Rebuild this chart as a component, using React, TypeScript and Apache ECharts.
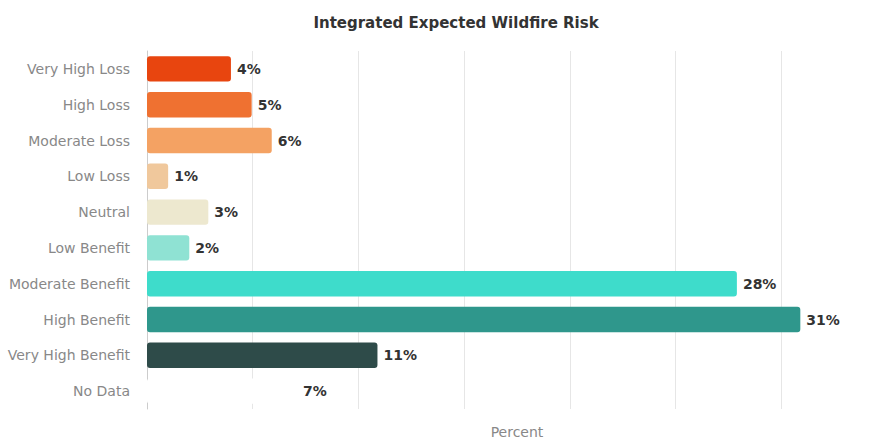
import React, { useEffect, useRef } from "react";
import * as echarts from "echarts";

const categories = [
  "Very High Loss",
  "High Loss",
  "Moderate Loss",
  "Low Loss",
  "Neutral",
  "Low Benefit",
  "Moderate Benefit",
  "High Benefit",
  "Very High Benefit",
  "No Data",
];
const values = [3.97, 4.95, 5.9, 1.0, 2.9, 2.0, 27.9, 30.9, 10.9, 7.1];
const colors = [
  "#e8450f",
  "#ef7131",
  "#f4a263",
  "#f0c89c",
  "#ede8cf",
  "#8fe2d3",
  "#3edccb",
  "#2f978c",
  "#2e4b49",
  "#ffffff",
];

const FONT = "DejaVu Sans";

export default function App() {
  const ref = useRef<HTMLDivElement>(null);
  useEffect(() => {
    const chart = echarts.init(ref.current!, null, { renderer: "svg" });
    chart.setOption({
      animation: false,
      backgroundColor: "#ffffff",
      title: {
        text: "Integrated Expected Wildfire Risk",
        left: 451,
        textAlign: "center",
        top: 10,
        textStyle: { fontSize: 15, fontWeight: "bold", color: "#333", fontFamily: FONT },
      },
      grid: { left: 147, width: 759, top: 51, bottom: 25, containLabel: false },
      xAxis: {
        type: "value",
        min: 0,
        max: 35,
        interval: 5,
        name: "Percent",
        nameLocation: "middle",
        nameGap: 16,
        nameTextStyle: { fontSize: 14, color: "#888", fontFamily: FONT },
        axisLabel: { show: false },
        axisLine: { show: false },
        axisTick: { show: false },
        splitLine: { show: true, lineStyle: { color: "#e6e6e6" } },
      },
      yAxis: {
        type: "category",
        data: categories,
        inverse: true,
        axisLine: { show: true, lineStyle: { color: "#cccccc" } },
        axisTick: { show: false },
        axisLabel: { fontSize: 14, color: "#888", margin: 17, fontFamily: FONT },
      },
      series: [
        {
          type: "bar",
          data: values.map((v, i) => ({ value: v, itemStyle: { color: colors[i] } })),
          barCategoryGap: "29%",
          itemStyle: { borderRadius: 3 },
          label: {
            show: true,
            position: "right",
            distance: 6,
            fontSize: 14,
            fontWeight: "bold",
            color: "#333",
            fontFamily: FONT,
            formatter: (p: any) => Math.round(p.value) + "%",
          },
        },
      ],
    });
    return () => chart.dispose();
  }, []);
  return <div ref={ref} style={{ width: 887, height: 444, position: "absolute", left: 0, top: 0 }} />;
}
